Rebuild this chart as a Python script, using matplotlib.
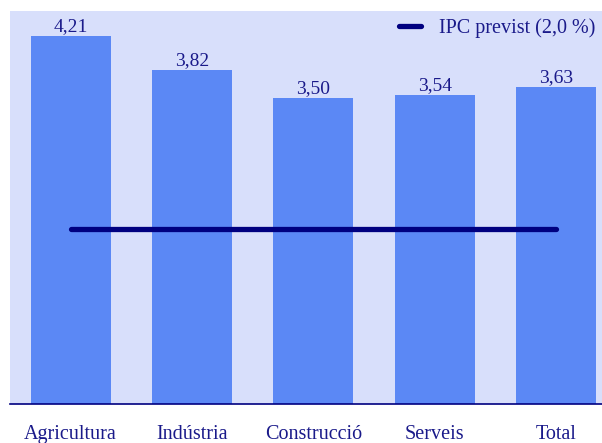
import numpy as np
import matplotlib.pyplot as plt

sectors = ["Agricultura", "Indústria", "Construcció", "Serveis", "Total"]
values = [4.21, 3.82, 3.50, 3.54, 3.63]
value_labels = ["4,21", "3,82", "3,50", "3,54", "3,63"]
ipc = 2.0

plt.rcParams['font.family'] = ['Liberation Serif', 'DejaVu Serif']
navy = "#1a1a8a"

fig = plt.figure(figsize=(6.02, 4.43), dpi=100)
ax = fig.add_axes([10 / 602, 39 / 443, 592 / 602, 393 / 443])
ax.set_facecolor("#d8dffb")

x = np.arange(len(sectors))
ax.bar(x, values, width=0.66, color="#5b88f5", zorder=2)
for xi, v, lab in zip(x, values, value_labels):
    ax.text(xi, v + 0.01, lab, ha="center", va="bottom", fontsize=14, color=navy, zorder=3)

ax.plot([x[0], x[-1]], [ipc, ipc], color="#000080", lw=3.8, solid_capstyle="round",
        zorder=4, label="IPC previst (2,0 %)")

ax.set_xlim(-0.5, 4.38)
ax.set_ylim(0, 4.5)
ax.set_yticks([])
ax.set_xticks(x)
ax.set_xticklabels(sectors, fontsize=14.5, color=navy)
ax.tick_params(axis="x", length=0, pad=15)
for s in ["top", "right", "left"]:
    ax.spines[s].set_visible(False)
ax.spines["bottom"].set_color("#000080")
ax.spines["bottom"].set_linewidth(1.2)

leg = ax.legend(loc="upper right", bbox_to_anchor=(1.003, 1.003), frameon=False,
                fontsize=14.5, handlelength=1.1, borderaxespad=0.0, handletextpad=0.9)
for t in leg.get_texts():
    t.set_color(navy)

fig.savefig("out.png", dpi=100)
